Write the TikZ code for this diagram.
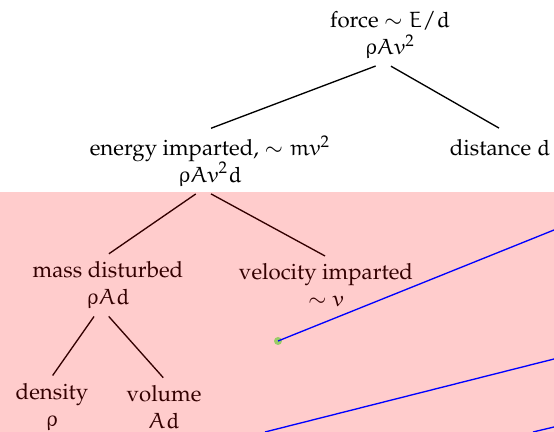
\documentclass[tikz,border=0pt]{standalone}
\usepackage[T1]{fontenc}
\usepackage{mathpazo}
\DeclareSymbolFont{letters}{U}{eur}{m}{n}
\SetSymbolFont{letters}{bold}{U}{eur}{b}{n}
\usetikzlibrary{positioning}
\tikzset{
  term/.style={align=center, inner sep=3pt},
  edge/.style={semithick, draw=black, shorten <=0.5pt, shorten >=0.5pt},
  link/.style={semithick, draw=blue},
}
\begin{document}
\begin{tikzpicture}[x=0.45pt, y=-0.45pt]
  \useasboundingbox (0,0) rectangle (554,432);
  % tree of quantities
  \node[term] (force) at (390,35) {force $\sim E/d$\\ $\rho A v^2$};
  \node[term] (energy) at (210,161) {energy imparted, $\sim mv^2$\\ $\rho A v^2 d$};
  \node[term, anchor=north, text height=8.8pt, text depth=2pt] (dist) at ([xshift=130.5pt]energy.north) {distance $d$};
  \node[term] (mass) at (108,285) {mass disturbed\\ $\rho A d$};
  \node[term] (vel) at (326,285) {velocity imparted\\ $\sim v$};
  \node[term] (dens) at (52,407) {density\\ $\rho$};
  \node[term] (vol) at (164,407) {volume\\ $A d$};
  \draw[edge] ([xshift=-6pt]force.south) -- (energy.north);
  \draw[edge] (force.south) -- (dist.north);
  \draw[edge] ([xshift=-6pt]energy.south) -- (mass.north);
  \draw[edge] (energy.south) -- (vel.north);
  \draw[edge] ([xshift=-6pt]mass.south) -- (dens.north);
  \draw[edge] (mass.south) -- (vol.north);
  % marker and shaded region
  \coordinate (dot) at (278,341);
  \fill[green!50] (dot) circle[radius=4];
  \fill[red, opacity=0.2] (0,192) rectangle (554,432);
  % lines leaving the frame
  \coordinate (e1) at (554,230);
  \coordinate (s2) at (265,432);
  \coordinate (e2) at (554,359);
  \coordinate (s3) at (533,432);
  \coordinate (e3) at (554,427);
  \draw[link] (dot) -- (e1);
  \draw[link] (s2) -- (e2);
  \draw[link] (s3) -- (e3);
\end{tikzpicture}
\end{document}
